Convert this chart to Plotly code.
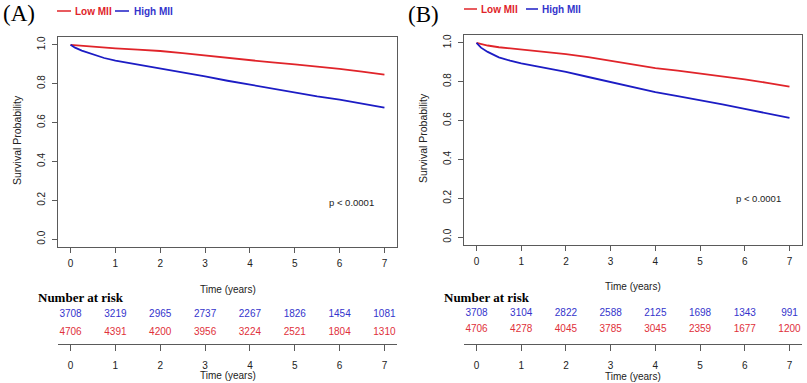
import plotly.graph_objects as go

W, H = 807, 383

# ---------------- data ----------------
times = [0, 0.1, 0.25, 0.5, 0.75, 1, 1.5, 2, 2.5, 3, 3.5, 4, 4.5, 5, 5.5, 6, 6.5, 7]

a_low = [1.0, 0.998, 0.995, 0.990, 0.986, 0.982, 0.975, 0.968, 0.957, 0.945, 0.930,
         0.918, 0.909, 0.899, 0.888, 0.876, 0.862, 0.846]
a_high = [1.0, 0.985, 0.970, 0.949, 0.932, 0.918, 0.898, 0.880, 0.860, 0.837, 0.815,
          0.795, 0.773, 0.752, 0.735, 0.718, 0.698, 0.677]
b_low = [1.0, 0.993, 0.986, 0.977, 0.971, 0.965, 0.954, 0.942, 0.926, 0.908, 0.890,
         0.870, 0.857, 0.843, 0.828, 0.812, 0.794, 0.774]
b_high = [1.0, 0.975, 0.953, 0.925, 0.908, 0.894, 0.872, 0.850, 0.824, 0.797, 0.771,
          0.746, 0.726, 0.706, 0.683, 0.660, 0.637, 0.614]

risk_times = [0, 1, 2, 3, 4, 5, 6, 7]
a_risk_high = [3708, 3219, 2965, 2737, 2267, 1826, 1454, 1081]
a_risk_low = [4706, 4391, 4200, 3956, 3224, 2521, 1804, 1310]
b_risk_high = [3708, 3104, 2822, 2588, 2125, 1698, 1343, 991]
b_risk_low = [4706, 4278, 4045, 3785, 3045, 2359, 1677, 1200]

y_ticks = [0.0, 0.2, 0.4, 0.6, 0.8, 1.0]
x_ticks = [0, 1, 2, 3, 4, 5, 6, 7]
p_text = "p < 0.0001"

# ---------------- styles ----------------
RED = "#E0242A"
BLUE = "#1C1CC4"
RED_T = "#E0303A"
BLUE_T = "#3434CC"
AX = "#5a5a5a"
SANS = "Liberation Sans, Arial, sans-serif"
SERIF = "Liberation Serif, Times New Roman, serif"


def px_x(p):
    return p / W


def px_y(p):
    return 1 - p / H


fig = go.Figure()

panels = [
    dict(name="A", x="x", y="y", tx="x3", ty="y3", low=a_low, high=a_high,
         rlow=a_risk_low, rhigh=a_risk_high),
    dict(name="B", x="x2", y="y2", tx="x4", ty="y4", low=b_low, high=b_high,
         rlow=b_risk_low, rhigh=b_risk_high),
]

for p in panels:
    fig.add_trace(go.Scatter(x=times, y=p["low"], mode="lines", xaxis=p["x"], yaxis=p["y"],
                             line=dict(color=RED, width=1.8), showlegend=False, name="Low MII"))
    fig.add_trace(go.Scatter(x=times, y=p["high"], mode="lines", xaxis=p["x"], yaxis=p["y"],
                             line=dict(color=BLUE, width=1.8), showlegend=False, name="High MII"))

# risk table rows (row level in table-axis units)
row_level = {"A": (2.42, 1.0), "B": (2.58, 1.17)}
for p in panels:
    hi_lv, lo_lv = row_level[p["name"]]
    fig.add_trace(go.Scatter(x=risk_times, y=[hi_lv] * len(risk_times), mode="text",
                             text=[str(v) for v in p["rhigh"]], xaxis=p["tx"], yaxis=p["ty"],
                             textfont=dict(family=SANS, size=10, color=BLUE_T),
                             showlegend=False, cliponaxis=False, hoverinfo="skip"))
    fig.add_trace(go.Scatter(x=risk_times, y=[lo_lv] * len(risk_times), mode="text",
                             text=[str(v) for v in p["rlow"]], xaxis=p["tx"], yaxis=p["ty"],
                             textfont=dict(family=SANS, size=10, color=RED_T),
                             showlegend=False, cliponaxis=False, hoverinfo="skip"))

common_x = dict(range=[-0.28, 7.28], tickvals=x_ticks, ticks="outside", ticklen=5,
                tickcolor=AX, showline=True, linecolor=AX, linewidth=1, showgrid=False,
                zeroline=False, ticklabelstandoff=2,
                tickfont=dict(family=SANS, size=10, color="#222"))
common_y = dict(range=[-0.04, 1.04], tickvals=y_ticks, tickformat=".1f", ticks="outside",
                ticklen=5, tickcolor=AX, showline=True, linecolor=AX, linewidth=1,
                showgrid=False, zeroline=False, tickangle=-90, ticklabelstandoff=3,
                tickfont=dict(family=SANS, size=10, color="#222"))

tbl_x = dict(range=[-0.28, 7.28], tickvals=x_ticks, ticks="outside", ticklen=6,
             tickcolor=AX, showline=True, linecolor=AX, linewidth=1, showgrid=False,
             zeroline=False, ticklabelstandoff=6,
             tickfont=dict(family=SANS, size=10, color="#222"))
tbl_y = dict(range=[0, 4.5], visible=False, showgrid=False, zeroline=False)

fig.update_layout(
    width=W, height=H, margin=dict(l=0, r=0, t=0, b=0),
    paper_bgcolor="white", plot_bgcolor="white", showlegend=False,
    xaxis=dict(domain=[px_x(58), px_x(397)], anchor="y", mirror=True, **common_x),
    yaxis=dict(domain=[px_y(247), px_y(37)], anchor="x", mirror=True, **common_y),
    xaxis2=dict(domain=[px_x(464), px_x(802)], anchor="y2", mirror=True, **common_x),
    yaxis2=dict(domain=[px_y(245), px_y(35)], anchor="x2", mirror=True, **common_y),
    xaxis3=dict(domain=[px_x(58), px_x(397)], anchor="y3", **tbl_x),
    yaxis3=dict(domain=[px_y(344), px_y(290)], anchor="x3", **tbl_y),
    xaxis4=dict(domain=[px_x(464), px_x(802)], anchor="y4", **tbl_x),
    yaxis4=dict(domain=[px_y(344), px_y(290)], anchor="x4", **tbl_y),
)

ann = []
shapes = []


def text(x, y, s, size, color="#222", family=SANS, xanchor="center", angle=0, bold=False):
    if bold:
        s = "<b>" + s + "</b>"
    ann.append(dict(x=px_x(x), y=px_y(y), xref="paper", yref="paper", text=s, showarrow=False,
                    xanchor=xanchor, yanchor="middle", textangle=angle,
                    font=dict(family=family, size=size, color=color)))


# Panel A labels
text(1, 13, "(A)", 23, color="#000", family=SERIF, xanchor="left")
shapes.append(dict(type="line", xref="paper", yref="paper", x0=px_x(57), x1=px_x(71),
                   y0=px_y(11), y1=px_y(11), line=dict(color=RED, width=1.5)))
text(73, 11, "Low MII", 10, color=RED, xanchor="left", bold=True)
shapes.append(dict(type="line", xref="paper", yref="paper", x0=px_x(115), x1=px_x(129),
                   y0=px_y(11), y1=px_y(11), line=dict(color=BLUE, width=1.5)))
text(132, 11, "High MII", 10, color=BLUE_T, xanchor="left", bold=True)
text(17, 140, "Survival Probability", 10.5, angle=-90)
text(351, 202, p_text, 9.5)
text(228, 289, "Time (years)", 10)
text(36, 297, "Number at risk", 13, color="#000", family=SERIF, xanchor="left", bold=True)
text(228, 375, "Time (years)", 10)

# Panel B labels
text(406, 15, "(B)", 23, color="#000", family=SERIF, xanchor="left")
shapes.append(dict(type="line", xref="paper", yref="paper", x0=px_x(464), x1=px_x(477),
                   y0=px_y(9), y1=px_y(9), line=dict(color=RED, width=1.5)))
text(479, 9, "Low MII", 10, color=RED, xanchor="left", bold=True)
shapes.append(dict(type="line", xref="paper", yref="paper", x0=px_x(526), x1=px_x(538),
                   y0=px_y(9), y1=px_y(9), line=dict(color=BLUE, width=1.5)))
text(540, 9, "High MII", 10, color=BLUE_T, xanchor="left", bold=True)
text(423, 138, "Survival Probability", 10.5, angle=-90)
text(758, 198, p_text, 9.5)
text(633, 286, "Time (years)", 10)
text(442, 297, "Number at risk", 13, color="#000", family=SERIF, xanchor="left", bold=True)
text(633, 376, "Time (years)", 10)

fig.update_layout(annotations=ann, shapes=shapes)

fig.write_html("out.html", config={"displayModeBar": False},
               post_script="document.body.style.margin='0';document.body.style.padding='0';")
